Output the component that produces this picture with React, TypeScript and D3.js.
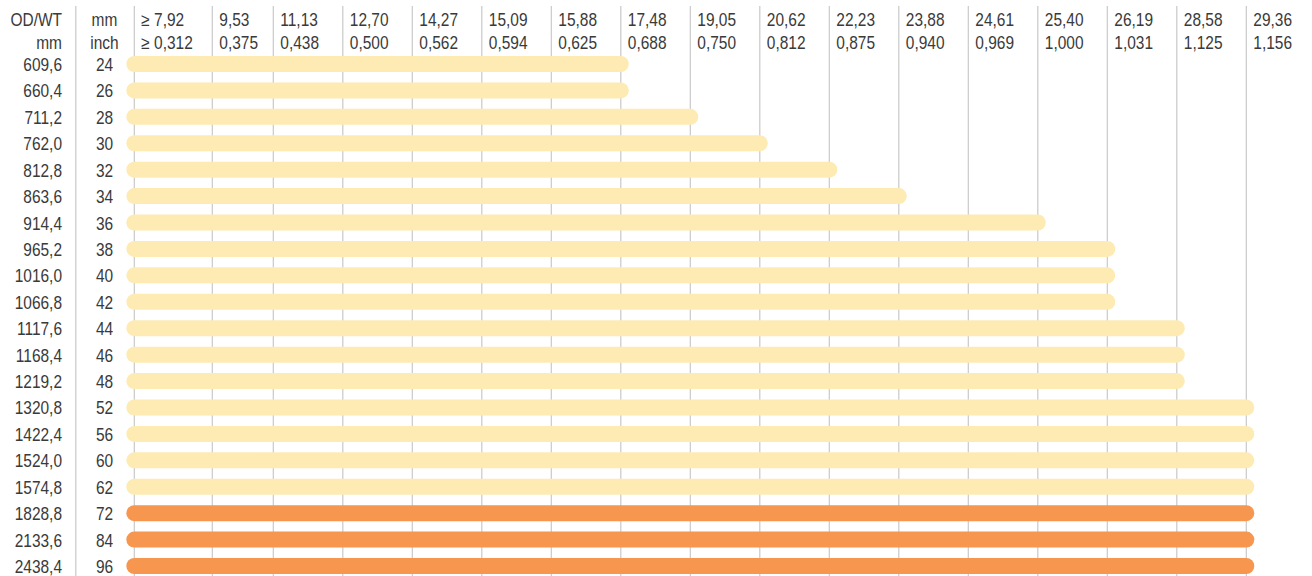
import React from "react";
import * as d3 from "d3";

const odMm = ["609,6","660,4","711,2","762,0","812,8","863,6","914,4","965,2","1016,0","1066,8","1117,6","1168,4","1219,2","1320,8","1422,4","1524,0","1574,8","1828,8","2133,6","2438,4"];
const odInch = ["24","26","28","30","32","34","36","38","40","42","44","46","48","52","56","60","62","72","84","96"];
const wtMm = ["≥ 7,92","9,53","11,13","12,70","14,27","15,09","15,88","17,48","19,05","20,62","22,23","23,88","24,61","25,40","26,19","28,58","29,36"];
const wtInch = ["≥ 0,312","0,375","0,438","0,500","0,562","0,594","0,625","0,688","0,750","0,812","0,875","0,940","0,969","1,000","1,031","1,125","1,156"];
// maximum wall thickness (mm) reached by each outer diameter
const maxWt = ["17,48","17,48","19,05","20,62","22,23","23,88","25,40","26,19","26,19","26,19","28,58","28,58","28,58","29,36","29,36","29,36","29,36","29,36","29,36","29,36"];
// range group: "std" light bars, "large" orange bars
const group = ["std","std","std","std","std","std","std","std","std","std","std","std","std","std","std","std","std","large","large","large"];

const W = 1312;
const H = 576;
const FONT = "'Liberation Sans', Arial, sans-serif";
const TEXT = "#3a3a3a";
const GRID = "#c9c9c9";
const SX = 0.86;

function T({ x, y, anchor, children }: { x: number; y: number; anchor?: string; children: React.ReactNode }) {
  return (
    <text
      transform={`translate(${x},${y}) scale(${SX},1)`}
      textAnchor={anchor || "start"}
      fill={TEXT}
    >
      {children}
    </text>
  );
}

export default function App() {
  const colX = d3
    .scaleLinear()
    .domain([0, 1, 2, wtMm.length - 1])
    .range([134.3, 212.3, 273.3, 1246.3]);
  const rowY = d3
    .scaleLinear()
    .domain([0, odMm.length - 1])
    .range([64, 566]);
  const color = d3
    .scaleOrdinal<string, string>()
    .domain(["std", "large"])
    .range(["#feebb4", "#f6964f"]);

  const idx = (v: string) => wtMm.indexOf(v);

  return (
    <svg
      width={W}
      height={H}
      style={{ position: "absolute", left: 0, top: 0, display: "block", background: "#fff" }}
      fontFamily={FONT}
      fontSize={18}
    >
      {/* grid lines */}
      <line x1={75.8} x2={75.8} y1={6} y2={H} stroke={GRID} strokeWidth={1.2} />
      {wtMm.map((_, i) => (
        <line key={"g" + i} x1={colX(i)} x2={colX(i)} y1={6} y2={H} stroke={GRID} strokeWidth={1.2} />
      ))}

      {/* headers */}
      <T x={62} y={26} anchor="end">OD/WT</T>
      <T x={62} y={49} anchor="end">mm</T>
      <T x={104.5} y={26} anchor="middle">mm</T>
      <T x={104.5} y={49} anchor="middle">inch</T>
      {wtMm.map((t, i) => (
        <T key={"hm" + i} x={colX(i) + 7} y={26}>{t}</T>
      ))}
      {wtInch.map((t, i) => (
        <T key={"hi" + i} x={colX(i) + 7} y={49}>{t}</T>
      ))}

      {/* bars */}
      {odMm.map((_, r) => (
        <line
          key={"b" + r}
          x1={colX(0)}
          x2={colX(idx(maxWt[r]))}
          y1={rowY(r)}
          y2={rowY(r)}
          stroke={color(group[r])}
          strokeWidth={16}
          strokeLinecap="round"
        />
      ))}

      {/* row labels */}
      {odMm.map((t, r) => (
        <T key={"rm" + r} x={62} y={rowY(r) + 7} anchor="end">{t}</T>
      ))}
      {odInch.map((t, r) => (
        <T key={"ri" + r} x={104.5} y={rowY(r) + 7} anchor="middle">{t}</T>
      ))}
    </svg>
  );
}
